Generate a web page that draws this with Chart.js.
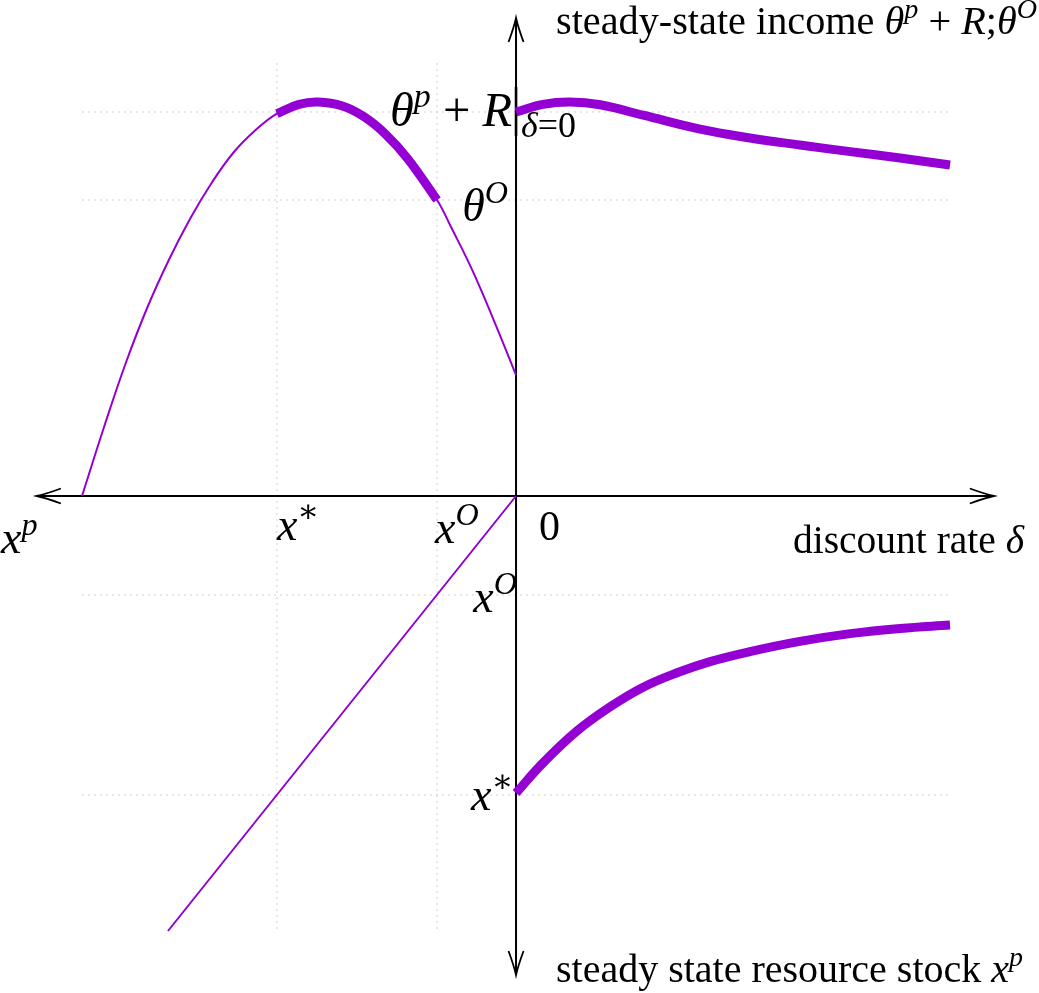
<!DOCTYPE html>
<html>
<head>
  <meta charset="utf-8">
  <title>Steady-state income and resource stock</title>
  <script src="https://cdn.jsdelivr.net/npm/chart.js@4.4.1/dist/chart.umd.min.js"></script>
  <style>
    html,
    body {
      margin: 0;
      padding: 0;
      background: #fff;
    }

    #wrap {
      width: 1039px;
      height: 993px;
    }
  </style>
</head>
<body>
  <div id="wrap"><canvas id="chart"></canvas></div>
  <script>
    // left half: stock (drawn leftwards, x^p = -1), right half: discount rate
    // upper half: income, lower half: steady state stock

    // marked levels
    var thetaPR = 0.96;      // theta^p + R at delta = 0
    var thetaO = 0.74;       // theta^O
    var xP = -1;             // x^p
    var xStar = -0.551;      // x*
    var xO = -0.182;         // x^O
    var xStarDown = -0.7475; // x* on the lower axis
    var xODown = -0.2475;    // x^O on the lower axis

    // income as a function of the stock (upper left)
    var stockX = [-1, -0.95, -0.9, -0.85, -0.8, -0.75, -0.7, -0.65, -0.6, -0.551, -0.5, -0.456, -0.4, -0.35, -0.3, -0.25, -0.182, -0.15, -0.1, -0.05, 0];
    var incomeByStock = [0, 0.17, 0.33, 0.47, 0.59, 0.695, 0.785, 0.86, 0.915, 0.956, 0.979, 0.985, 0.975, 0.948, 0.904, 0.844, 0.74, 0.673, 0.563, 0.436, 0.3025];

    // 45 degree mapping stock -> lower axis (lower left)
    var mapX = [0, -0.802];
    var mapY = [0, -1.0875];

    // income vs discount rate (upper right)
    var rateX = [0, 0.062, 0.124, 0.194, 0.293, 0.424, 0.539, 0.654, 0.77, 0.885, 1.0];
    var incomeByRate = [0.96, 0.979, 0.985, 0.978, 0.952, 0.917, 0.895, 0.8775, 0.861, 0.845, 0.8275];

    // stock vs discount rate (lower right)
    var rateX2 = [0, 0.062, 0.141, 0.217, 0.293, 0.371, 0.447, 0.539, 0.654, 0.77, 0.885, 1.0];
    var stockByRate = [-0.7425, -0.6675, -0.587, -0.527, -0.478, -0.442, -0.414, -0.389, -0.3635, -0.344, -0.331, -0.3225];

    var gridY = [thetaPR, thetaO, xODown, xStarDown];
    var gridX = [xStar, xO];

    var PURPLE = '#9400d3';
    var FONT = "'Liberation Serif', 'DejaVu Serif', serif";

    function pts(xs, ys) {
      return xs.map(function (v, i) { return { x: v, y: ys[i] }; });
    }

    // thick part of the left curve lies between x* and x^O
    var leftPts = pts(stockX, incomeByStock);
    var thickLeft = leftPts.filter(function (p) { return p.x >= xStar && p.x <= xO; });

    var curveSets = [
      { data: thickLeft, borderColor: PURPLE, borderWidth: 9, tension: 0.4 },
      { data: pts(rateX, incomeByRate), borderColor: PURPLE, borderWidth: 9, tension: 0.4 },
      { data: pts(rateX2, stockByRate), borderColor: PURPLE, borderWidth: 9, tension: 0.4 },
      { data: leftPts, borderColor: PURPLE, borderWidth: 2, tension: 0.4 },
      { data: pts(mapX, mapY), borderColor: PURPLE, borderWidth: 2 }
    ];
    var gridSets = [];
    gridY.forEach(function (v) {
      gridSets.push({ data: [{ x: -1, y: v }, { x: 1, y: v }], borderColor: '#cfcfcf', borderWidth: 1, borderDash: [2, 4] });
    });
    gridX.forEach(function (v) {
      gridSets.push({ data: [{ x: v, y: 1.0825 }, { x: v, y: -1.0875 }], borderColor: '#cfcfcf', borderWidth: 1, borderDash: [2, 4] });
    });
    var datasets = curveSets.concat(gridSets).map(function (d) {
      d.showLine = true;
      d.pointRadius = 0;
      d.fill = false;
      return d;
    });

    // ---- helpers for drawing ----
    function arrow(ctx, tx, ty, dx, dy) {
      // tikz-like open arrow head at (tx,ty) pointing along (dx,dy)
      var L = 24, W = 7.5;
      var px = -dy, py = dx;
      ctx.beginPath();
      ctx.moveTo(tx - dx * L + px * W, ty - dy * L + py * W);
      ctx.quadraticCurveTo(tx - dx * 9 + px * 2, ty - dy * 9 + py * 2, tx, ty);
      ctx.quadraticCurveTo(tx - dx * 9 - px * 2, ty - dy * 9 - py * 2, tx - dx * L - px * W, ty - dy * L - py * W);
      ctx.stroke();
    }

    function runFont(kind, size) {
      var small = kind.indexOf('^') >= 0 || kind.indexOf('_') >= 0;
      var s = small ? size * 0.7 : size;
      return (kind.charAt(0) === 'i' ? 'italic ' : '') + s.toFixed(2) + 'px ' + FONT;
    }

    function mathWidth(ctx, runs, size) {
      var w = 0;
      runs.forEach(function (r) {
        ctx.font = runFont(r[1], size);
        w += ctx.measureText(r[0]).width;
      });
      return w;
    }

    // spec: {w: target width} or {size: font size}; align 'right' puts the right edge at x
    function drawMath(ctx, runs, x, baseline, spec, align) {
      var size = spec.size || 30;
      if (spec.w) size = size * spec.w / mathWidth(ctx, runs, size);
      var total = mathWidth(ctx, runs, size);
      var cx = align === 'right' ? x - total : x;
      runs.forEach(function (r) {
        ctx.font = runFont(r[1], size);
        var dy = 0;
        if (r[1].indexOf('^') >= 0) dy = -0.4 * size;
        if (r[1].indexOf('_') >= 0) dy = 0.22 * size;
        ctx.fillText(r[0], cx, baseline + dy);
        cx += ctx.measureText(r[0]).width;
      });
    }

    var axesPlugin = {
      id: 'axes',
      beforeDatasetDraw: function (chart, args) {
        if (args.index !== curveSets.length - 1) return;
        var xs = chart.scales.x, ys = chart.scales.y, ctx = chart.ctx;
        var ox = xs.getPixelForValue(0), oy = ys.getPixelForValue(0);
        var left = xs.getPixelForValue(-1.104), right = xs.getPixelForValue(1.101);
        var top = ys.getPixelForValue(1.195), bottom = ys.getPixelForValue(-1.1975);
        ctx.save();
        ctx.strokeStyle = '#000';
        ctx.lineWidth = 2;
        ctx.beginPath();
        ctx.moveTo(left, oy); ctx.lineTo(right, oy);
        ctx.moveTo(ox, top); ctx.lineTo(ox, bottom);
        ctx.stroke();
        ctx.lineWidth = 1.8;
        arrow(ctx, right, oy, 1, 0);
        arrow(ctx, left, oy, -1, 0);
        arrow(ctx, ox, top, 0, -1);
        arrow(ctx, ox, bottom, 0, 1);
        // evaluation bar of theta^p + R |_{delta=0}
        var yb = ys.getPixelForValue(thetaPR);
        ctx.lineWidth = 2.6;
        ctx.beginPath();
        ctx.moveTo(ox, yb - 25); ctx.lineTo(ox, yb + 24);
        ctx.stroke();
        ctx.restore();
      }
    };

    var MATH = 46;

    var labelPlugin = {
      id: 'labels',
      afterDraw: function (chart) {
        var xs = chart.scales.x, ys = chart.scales.y, ctx = chart.ctx;
        var ox = xs.getPixelForValue(0), oy = ys.getPixelForValue(0);
        ctx.save();
        ctx.fillStyle = '#000';
        ctx.textBaseline = 'alphabetic';
        drawMath(ctx, [['steady-state income ', 'r'], ['θ', 'i'], ['p', 'i^'], [' + ', 'r'], ['R', 'i'], [';', 'r'], ['θ', 'i'], ['O', 'i^']], ox + 40, 34, { w: 481 });
        drawMath(ctx, [['θ', 'i'], ['p', 'i^'], [' + ', 'r'], ['R', 'i']], ox - 4, ys.getPixelForValue(thetaPR) + 14, { w: 122 }, 'right');
        drawMath(ctx, [['δ', 'i'], ['=0', 'r']], ox + 5, ys.getPixelForValue(thetaPR) + 25, { w: 55 });
        drawMath(ctx, [['θ', 'i'], ['O', 'i^']], ox - 8, ys.getPixelForValue(thetaO) + 21, { size: MATH }, 'right');
        drawMath(ctx, [['x', 'i'], ['p', 'i^']], xs.getPixelForValue(xP) - 81, oy + 57, { size: MATH });
        drawMath(ctx, [['x', 'i'], ['∗', 'r^']], xs.getPixelForValue(xStar), oy + 44, { size: MATH });
        drawMath(ctx, [['x', 'i'], ['O', 'i^']], xs.getPixelForValue(xO) - 2, oy + 47, { size: MATH });
        drawMath(ctx, [['0', 'r']], ox + 23, oy + 44, { size: 42 });
        drawMath(ctx, [['discount rate ', 'r'], ['δ', 'i']], ox + 277, oy + 57, { w: 231 });
        drawMath(ctx, [['x', 'i'], ['O', 'i^']], ox + 1, ys.getPixelForValue(xODown) + 17, { size: MATH }, 'right');
        drawMath(ctx, [['x', 'i'], ['∗', 'r^']], ox - 45, ys.getPixelForValue(xStarDown) + 15, { size: MATH });
        drawMath(ctx, [['steady state resource stock ', 'r'], ['x', 'i'], ['p', 'i^']], ox + 40, 982, { w: 467 });
        ctx.restore();
      }
    };

    var chart = new Chart(document.getElementById('chart').getContext('2d'), {
      type: 'scatter',
      data: { datasets: datasets },
      options: {
        responsive: true,
        maintainAspectRatio: false,
        animation: false,
        layout: { padding: 0 },
        plugins: { legend: { display: false }, tooltip: { enabled: false } },
        scales: {
          x: { type: 'linear', display: false, min: -1.189, max: 1.205 },
          y: { type: 'linear', display: false, min: -1.2425, max: 1.24 }
        }
      },
      plugins: [axesPlugin, labelPlugin]
    });
  </script>
</body>
</html>
